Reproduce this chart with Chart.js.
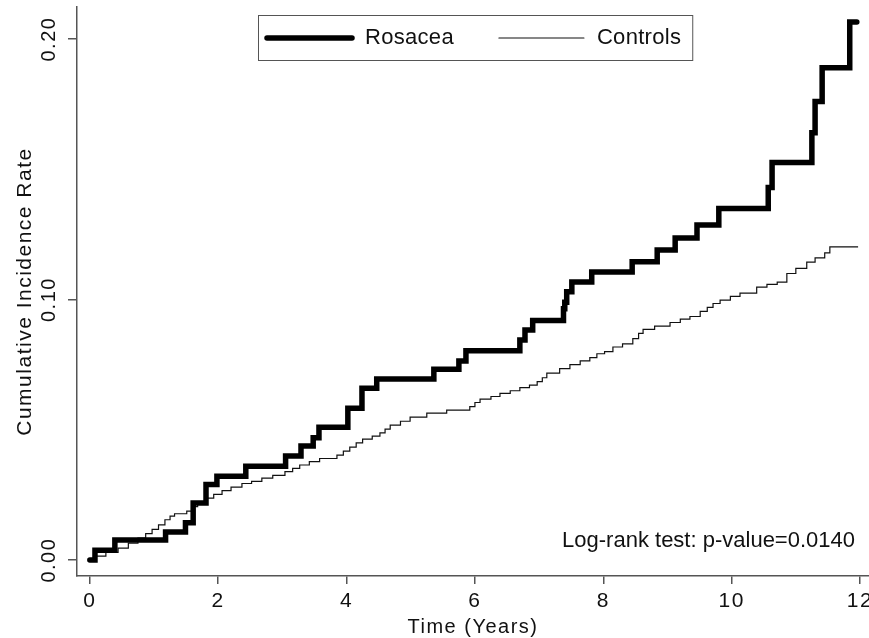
<!DOCTYPE html>
<html>
<head>
<meta charset="utf-8">
<script src="https://cdn.jsdelivr.net/npm/chart.js@4.4.1/dist/chart.umd.min.js"></script>
<style>
  body { margin: 0; background: #fff; }
</style>
</head>
<body>
<canvas id="kmChart" width="869" height="638"></canvas>
<script>
// Rosacea curve: event times (years) and cumulative rate after each step
const rosaceaTime = [0, 0.08, 0.39, 1.18, 1.49, 1.61, 1.81, 1.98, 2.43, 3.05, 3.29, 3.48, 3.57,
  4.02, 4.24, 4.47, 5.36, 5.75, 5.86, 6.70, 6.78, 6.90, 7.38, 7.40, 7.43, 7.51, 7.82,
  8.45, 8.84, 9.12, 9.46, 9.80, 10.57, 10.63, 11.25, 11.30, 11.41, 11.84, 11.95];
const rosaceaRate = [0, 0.0038, 0.0077, 0.0108, 0.0143, 0.0219, 0.0290, 0.0322, 0.0360, 0.0400, 0.0438, 0.0470, 0.0510,
  0.0583, 0.0660, 0.0695, 0.0733, 0.0764, 0.0804, 0.0845, 0.0883, 0.0920, 0.0965, 0.0990, 0.1030, 0.1067, 0.1106,
  0.1145, 0.1190, 0.1236, 0.1286, 0.1350, 0.1430, 0.1526, 0.1640, 0.1760, 0.1890, 0.2065, 0.2065];

// Controls curve
const controlsTime = [0, 0.10, 0.25, 0.44, 0.60, 0.75, 0.87, 0.97, 1.07, 1.17, 1.25, 1.32, 1.51, 1.60, 1.68,
  1.80, 1.93, 2.06, 2.20, 2.37, 2.52, 2.68, 2.85, 3.04, 3.16, 3.27, 3.42, 3.58, 3.85, 3.95, 4.05,
  4.15, 4.25, 4.40, 4.52, 4.60, 4.68, 4.84, 4.99, 5.25, 5.56, 5.92, 6.00, 6.08, 6.25, 6.39, 6.55,
  6.70, 6.85, 6.97, 7.05, 7.12, 7.32, 7.48, 7.64, 7.79, 7.90, 8.02, 8.15, 8.30, 8.46, 8.55, 8.62,
  8.80, 9.04, 9.20, 9.35, 9.51, 9.62, 9.71, 9.82, 9.98, 10.13, 10.39, 10.55, 10.71, 10.86, 11.00,
  11.17, 11.30, 11.45, 11.53, 11.97];
const controlsRate = [0, 0.0015, 0.0030, 0.0046, 0.0065, 0.0084, 0.0102, 0.0118, 0.0135, 0.0155, 0.0169, 0.0178, 0.0188, 0.0205, 0.0225,
  0.0238, 0.0252, 0.0267, 0.0280, 0.0294, 0.0302, 0.0315, 0.0325, 0.0340, 0.0352, 0.0365, 0.0378, 0.0390, 0.0403, 0.0418, 0.0434,
  0.0450, 0.0464, 0.0476, 0.0488, 0.0503, 0.0518, 0.0533, 0.0549, 0.0564, 0.0576, 0.0589, 0.0605, 0.0618, 0.0628, 0.0640, 0.0650,
  0.0662, 0.0672, 0.0685, 0.0700, 0.0718, 0.0735, 0.0750, 0.0765, 0.0777, 0.0792, 0.0800, 0.0818, 0.0830, 0.0850, 0.0870, 0.0886,
  0.0898, 0.0912, 0.0925, 0.0935, 0.0955, 0.0970, 0.0985, 0.0998, 0.1012, 0.1025, 0.1048, 0.1058, 0.1067, 0.1100, 0.1120,
  0.1144, 0.1160, 0.1179, 0.1202, 0.1202];

const seriesLabels = ["Rosacea", "Controls"];
const xTickValues = [0, 2, 4, 6, 8, 10, 12];
const yTickValues = [0, 0.1, 0.2];
const pValueText = "Log-rank test: p-value=0.0140";

const sansFont = '"Liberation Sans", Arial, sans-serif';
const textColor = "#111";
const axisColor = "#555";

function toPoints(times, rates) {
  return times.map((t, i) => ({ x: t, y: rates[i] }));
}

// no extra room for half tick labels, the plot box is fixed
function noPadding(s) {
  s.paddingLeft = 0;
  s.paddingRight = 0;
  s.paddingTop = 0;
  s.paddingBottom = 0;
}

// axis text is spaced out a little like the original
const spacingPlugin = {
  id: "spacing",
  beforeDraw(chart) { chart.ctx.letterSpacing = "1.5px"; },
  beforeDatasetsDraw(chart) { chart.ctx.letterSpacing = "0px"; }
};

// boxed legend inside the plot + log-rank note
const legendBoxPlugin = {
  id: "legendBox",
  afterDraw(chart) {
    const ctx = chart.ctx;
    const area = chart.chartArea;
    const lineLen = 85;
    ctx.save();
    ctx.letterSpacing = "0.3px";
    ctx.font = "22px " + sansFont;
    ctx.textBaseline = "middle";
    ctx.textAlign = "left";

    const dsets = chart.data.datasets;
    const widths = dsets.map(d => ctx.measureText(d.label).width);
    const boxLeft = area.left + 181;
    const boxTop = area.top + 8;
    const boxH = 45;
    let boxW = 9 + 11;
    dsets.forEach((d, i) => {
      boxW += lineLen + 13 + widths[i];
      if (i < dsets.length - 1) boxW += 45;
    });
    ctx.strokeStyle = axisColor;
    ctx.lineWidth = 1;
    ctx.strokeRect(boxLeft + 0.5, boxTop + 0.5, boxW, boxH);

    const midY = boxTop + 23;
    let x = boxLeft + 9;
    dsets.forEach((d, i) => {
      ctx.strokeStyle = d.borderColor;
      ctx.lineWidth = d.borderWidth;
      ctx.lineCap = "round";
      ctx.beginPath();
      ctx.moveTo(x, midY);
      ctx.lineTo(x + lineLen, midY);
      ctx.stroke();
      x += lineLen + 13;
      ctx.fillStyle = textColor;
      ctx.fillText(d.label, x, midY);
      x += widths[i] + 45;
    });

    ctx.letterSpacing = "0px";
    ctx.font = "22px " + sansFont;
    ctx.textAlign = "right";
    ctx.textBaseline = "alphabetic";
    ctx.fillStyle = textColor;
    ctx.fillText(pValueText, area.right - 14, area.bottom - 29);
    ctx.restore();
  }
};

const kmChart = new Chart(document.getElementById("kmChart"), {
  type: "line",
  data: {
    datasets: [{
      label: seriesLabels[0],
      data: toPoints(rosaceaTime, rosaceaRate),
      borderColor: "#000",
      borderWidth: 5.5,
      stepped: true,
      pointRadius: 0,
      fill: false,
      borderJoinStyle: "miter",
      borderCapStyle: "round"
    }, {
      label: seriesLabels[1],
      data: toPoints(controlsTime, controlsRate),
      borderColor: "#111",
      borderWidth: 1.2,
      stepped: true,
      pointRadius: 0,
      fill: false
    }]
  },
  options: {
    responsive: false,
    animation: false,
    layout: { padding: { top: 7, right: 0, left: 0, bottom: 0 } },
    plugins: {
      legend: { display: false },
      tooltip: { enabled: false }
    },
    scales: {
      x: {
        type: "linear",
        min: -0.2,
        max: 12.14,
        afterBuildTicks: s => { s.ticks = xTickValues.map(v => ({ value: v })); },
        afterFit: s => { s.height = 62; noPadding(s); },
        grid: { display: true, drawOnChartArea: false, drawTicks: true, tickLength: 8, color: axisColor, lineWidth: 1.5 },
        border: { display: true, color: axisColor, width: 1.5 },
        ticks: { color: textColor, font: { family: sansFont, size: 21 }, padding: 5, maxRotation: 0, autoSkip: false },
        title: {
          display: true, text: "Time (Years)", color: textColor,
          font: { family: sansFont, size: 20, lineHeight: 1 },
          padding: { top: 0, bottom: 1 }
        }
      },
      y: {
        min: -0.0061,
        max: 0.2123,
        afterBuildTicks: s => { s.ticks = yTickValues.map(v => ({ value: v })); },
        afterFit: s => { s.width = 77; noPadding(s); },
        grid: { display: true, drawOnChartArea: false, drawTicks: true, tickLength: 9, color: axisColor, lineWidth: 1.5 },
        border: { display: true, color: axisColor, width: 1.5 },
        ticks: {
          color: textColor, font: { family: sansFont, size: 20 },
          callback: v => v.toFixed(2),
          minRotation: 90, maxRotation: 90, crossAlign: "center", padding: -1, autoSkip: false
        },
        title: {
          display: true, text: "Cumulative Incidence Rate", color: textColor,
          font: { family: sansFont, size: 21, lineHeight: 1 },
          padding: { top: 15, bottom: 0 }
        }
      }
    }
  },
  plugins: [spacingPlugin, legendBoxPlugin]
});
</script>
</body>
</html>
